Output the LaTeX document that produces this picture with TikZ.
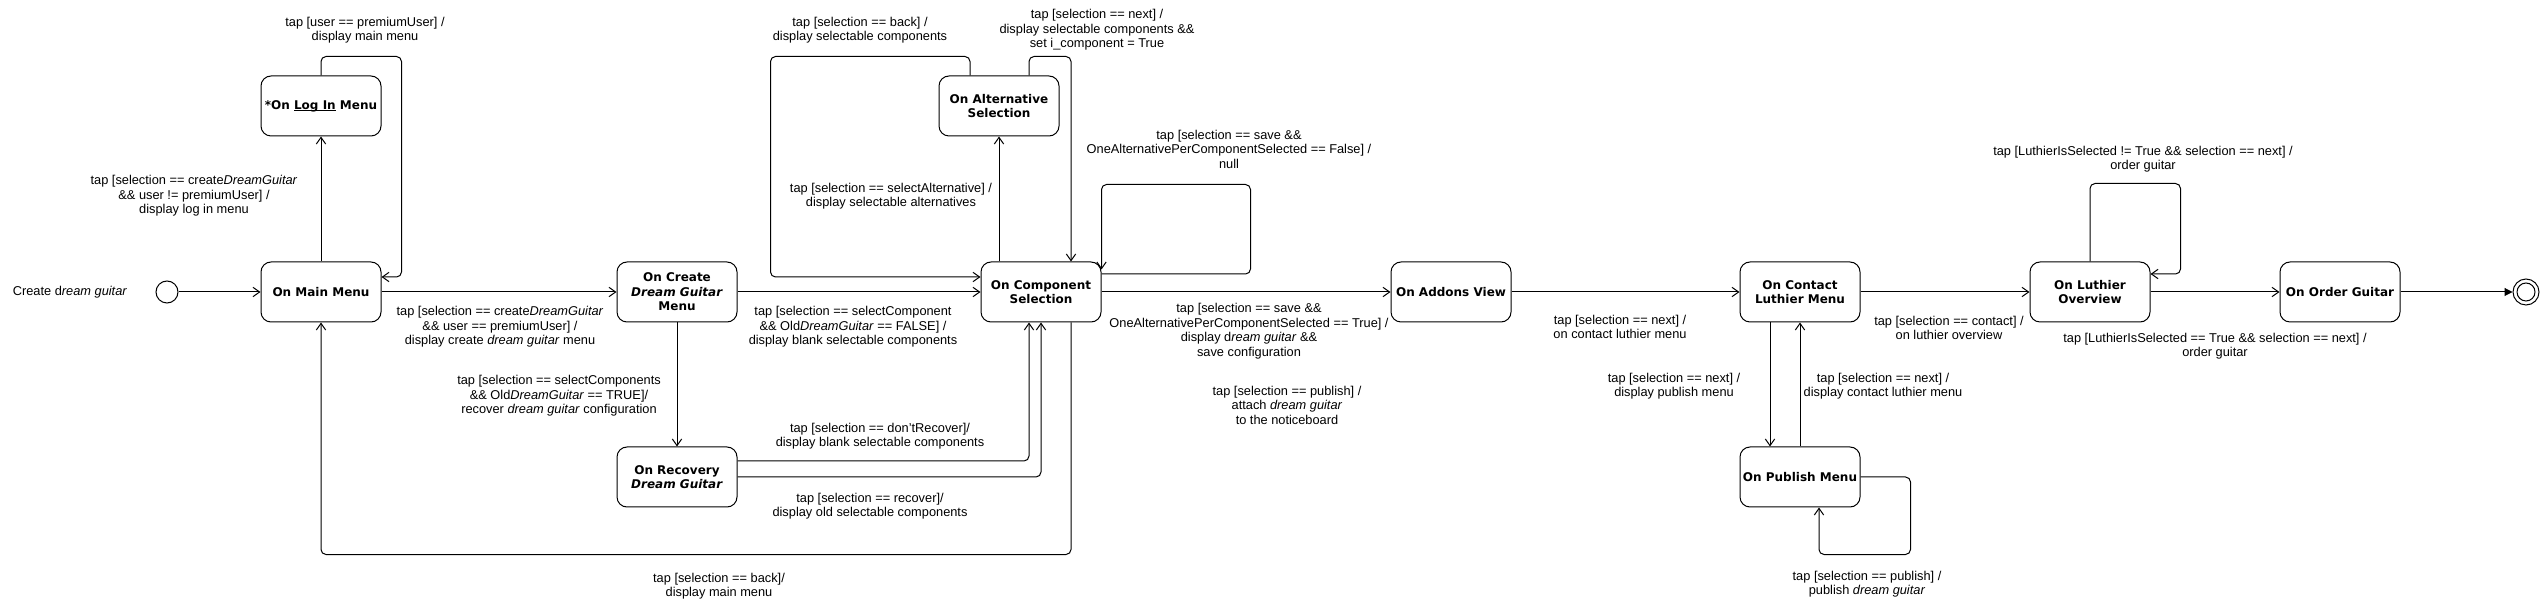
\documentclass[tikz,border=0pt]{standalone}
\usepackage{fontspec}
\setmainfont{Liberation Sans}
\newfontfamily\nodefont{DejaVu Sans}
\usetikzlibrary{arrows.meta,calc}
\newcommand\myul[1]{{\setbox0\hbox{#1}\rlap{\rule[-1.3pt]{\wd0}{0.6pt}}\box0}}
\tikzset{
  x=0.75pt, y=-0.75pt,
  state/.style={draw, line width=0.75pt, rounded corners=7.5pt, minimum width=90pt, minimum height=45pt,
    inner sep=0pt, align=center, font=\nodefont\bfseries\fontsize{9pt}{10.9pt}\selectfont},
  lbl/.style={inner sep=0pt, align=center, font=\fontsize{9.6pt}{10.9pt}\selectfont},
  edge/.style={line width=0.75pt, rounded corners=3.75pt, -{Straight Barb[length=5pt,width=7pt]}},
  endedge/.style={line width=0.75pt, -{Triangle[length=6pt,width=6pt]}},
}
\begin{document}
\begin{tikzpicture}
\useasboundingbox (0,0) rectangle (2541,605);
% states
\node[draw, circle, line width=0.75pt, minimum size=16.5pt, inner sep=0pt] (init) at (167,292) {};
\node[state] (login) at (321,106) {*On \myul{Log In} Menu};
\node[state] (main) at (321,292) {On Main Menu};
\node[state] (create) at (677,292) {On Create\\\textit{Dream Guitar}\\Menu};
\node[state] (recovery) at (677,477) {On Recovery\\\textit{Dream Guitar}};
\node[state] (comp) at (1041,292) {On Component\\Selection};
\node[state] (alt) at (999,106) {On Alternative\\Selection};
\node[state] (addons) at (1451,292) {On Addons View};
\node[state] (contact) at (1800,292) {On Contact\\Luthier Menu};
\node[state] (publish) at (1800,477) {On Publish Menu};
\node[state] (luthier) at (2090,292) {On Luthier\\Overview};
\node[state] (order) at (2340,292) {On Order Guitar};
\node[draw, circle, line width=0.75pt, minimum size=19.5pt, inner sep=0pt] (final) at (2526,292) {};
\node[draw, circle, line width=0.75pt, minimum size=13.5pt, inner sep=0pt] (finalin) at (2526,292) {};

% connectors
\draw[edge] (init) -- (main.west);
\draw[edge] (main.north) -- (login.south);
\draw[edge] (login.north) -- ++(0,-19) -| ($(main.east)+(20,-15)$) -- ($(main.east)+(0,-15)$);
\draw[edge] (main.east) -- (create.west);
\draw[edge] (create.east) -- (comp.west);
\draw[edge] (create.south) -- (recovery.north);
\draw[edge] ($(recovery.east)+(0,-16)$) -| ($(comp.south)+(-12,0)$);
\draw[edge] (recovery.east) -| (comp.south);
\draw[edge] ($(comp.south)+(30,0)$) |- ($(main.south)+(0,232)$) -- (main.south);
\draw[edge] (alt.south |- comp.north) -- (alt.south);
\draw[edge] ($(alt.north)+(-29,0)$) -- ++(0,-19) -| ($(comp.west)+(-210,-15)$) -- ($(comp.west)+(0,-15)$);
\draw[edge] ($(alt.north)+(30,0)$) -- ++(0,-19) -| ($(comp.north)+(30,0)$);
\draw[edge] ($(comp.east)+(0,-18)$) -- ++(149,0) |- ($(comp.north east)+(0,-77)$) -- ($(comp.north east)+(0,8)$);
\draw[edge] (comp.east) -- (addons.west);
\draw[edge] (addons.east) -- (contact.west);
\draw[edge] ($(contact.south)+(-30,0)$) -- ($(publish.north)+(-30,0)$);
\draw[edge] (publish.north) -- (contact.south);
\draw[edge] (publish.east) -- ++(50,0) |- ($(publish.south)+(19,47)$) -- ($(publish.south)+(19,0)$);
\draw[edge] (contact.east) -- (luthier.west);
\draw[edge] (luthier.north) -- ++(0,-78) -| ($(luthier.east)+(30,-18)$) -- ($(luthier.east)+(0,-18)$);
\draw[edge] (luthier.east) -- (order.west);
\draw[endedge] (order.east) -- (final.west);

% labels
\node[lbl] (l1) at (365,30) {tap [user == premiumUser] /\\display main menu};
\node[lbl] (l2) at (194,196) {tap [selection == create\textit{DreamGuitar}\\\&\& user != premiumUser] /\\display log in menu};
\node[lbl] (l3) at (70,292) {Create d\textit{ream guitar}};
\node[lbl] (l4) at (500,327) {tap [selection == create\textit{DreamGuitar}\\\&\& user == premiumUser] /\\display create \textit{dream guitar} menu};
\node[lbl] (l5) at (853,327) {tap [selection == selectComponent\\\&\& Old\textit{DreamGuitar} == FALSE] /\\display blank selectable components};
\node[lbl] (l6) at (559,396) {tap [selection == selectComponents\\\&\& Old\textit{DreamGuitar} == TRUE]/\\recover \textit{dream guitar} configuration};
\node[lbl] (l7) at (880,436) {tap [selection == don'tRecover]/\\display blank selectable components};
\node[lbl] (l8) at (870,506) {tap [selection == recover]/\\display old selectable components};
\node[lbl] (l9) at (719,586) {tap [selection == back]/\\display main menu};
\node[lbl] (l10) at (860,30) {tap [selection == back] /\\display selectable components};
\node[lbl] (l11) at (1097,30) {tap [selection == next] /\\display selectable components \&\&\\set i\_component = True};
\node[lbl] (l12) at (891,196) {tap [selection == selectAlternative] /\\display selectable alternatives};
\node[lbl] (l13) at (1229,149) {tap [selection == save \&\&\\OneAlternativePerComponentSelected == False] /\\null};
\node[lbl] (l14) at (1249,331) {tap [selection == save \&\&\\OneAlternativePerComponentSelected == True] /\\display d\textit{ream guitar} \&\&\\save configuration};
\node[lbl] (l15) at (1287,405) {tap [selection == publish] /\\attach \textit{dream guitar}\\to the noticeboard};
\node[lbl] (l16) at (1620,327) {tap [selection == next] /\\on contact luthier menu};
\node[lbl] (l17) at (1674,386) {tap [selection == next] /\\display publish menu};
\node[lbl] (l18) at (1883,386) {tap [selection == next] /\\display contact luthier menu};
\node[lbl] (l19) at (1867,584) {tap [selection == publish] /\\publish \textit{dream guitar}};
\node[lbl] (l20) at (1949,328) {tap [selection == contact] /\\on luthier overview};
\node[lbl] (l21) at (2143,159) {tap [LuthierIsSelected != True \&\& selection == next] /\\order guitar};
\node[lbl] (l22) at (2215,346) {tap [LuthierIsSelected == True \&\& selection == next] /\\order guitar};
\end{tikzpicture}
\end{document}
